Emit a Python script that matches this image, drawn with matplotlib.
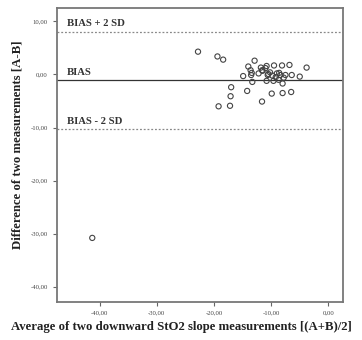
import matplotlib
matplotlib.use("Agg")
import matplotlib.pyplot as plt
from matplotlib.ticker import FuncFormatter

# mean of two measurements (x) and their difference (y)
avg_ab = [-22.8, -19.4, -18.4, -12.9, -14.0, -3.8, -8.1, -6.8, -10.8, -11.0,
          -11.5, -13.6, -13.4, -14.9, -13.5, -12.2, -11.6, -10.6, -9.5, -10.5,
          -9.0, -8.4, -7.5, -6.4, -5.0, -9.6, -8.7, -8.0, -10.8, -13.3,
          -17.0, -14.2, -8.0, -6.5, -9.9, -17.1, -19.2, -17.2, -11.6, -41.3,
          -9.2, -8.6, -10.2, -7.8, -9.8, -11.8]
diff_ab = [4.3, 3.4, 2.8, 2.6, 1.5, 1.3, 1.7, 1.8, 1.6, 1.2,
           0.7, 0.8, 0.3, -0.3, -0.1, 0.2, 0.8, -0.1, 1.7, 0.1,
           0.2, -0.1, -0.1, -0.1, -0.4, -1.2, -1.0, -1.7, -1.2, -1.4,
           -2.4, -3.1, -3.5, -3.3, -3.6, -4.1, -6.0, -5.9, -5.1, -30.8,
           -0.5, 0.3, 0.4, -0.6, -0.2, 1.3]

bias = -1.1
upper = 8.1
lower = -10.3

x_ticks = [-40, -30, -20, -10, 0]
y_ticks = [10, 0, -10, -20, -30, -40]

serif = "Liberation Serif"

fig = plt.figure(figsize=(3.62, 3.40), dpi=100)
ax = fig.add_axes([0.157, 0.113, 0.791, 0.863])

ax.scatter(avg_ab, diff_ab, s=14, facecolors="none", edgecolors="#444444", linewidths=0.8, zorder=3)

ax.axhline(bias, color="#333333", lw=0.9)
ax.axhline(upper, color="#888888", lw=0.9, ls=(0, (1.5, 1.5)))
ax.axhline(lower, color="#888888", lw=0.9, ls=(0, (1.5, 1.5)))

ax.text(-45.8, upper + 1.0, "BIAS + 2 SD", family=serif, weight="bold", fontsize=7.7, color="#333333")
ax.text(-45.8, bias + 1.0, "BIAS", family=serif, weight="bold", fontsize=7.7, color="#333333")
ax.text(-45.8, lower + 1.0, "BIAS - 2 SD", family=serif, weight="bold", fontsize=7.7, color="#333333")

ax.set_xlim(-47.5, 2.6)
ax.set_ylim(-42.8, 12.5)
ax.set_xticks(x_ticks)
ax.set_yticks(y_ticks)
fmt = FuncFormatter(lambda v, p: f"{v:.2f}".replace(".", ","))
ax.xaxis.set_major_formatter(fmt)
ax.yaxis.set_major_formatter(fmt)
ax.tick_params(labelsize=4.8, length=3, width=0.8, color="#666666", labelcolor="#444444")
for lab in ax.get_xticklabels() + ax.get_yticklabels():
    lab.set_family(serif)
for s in ax.spines.values():
    s.set_color("#777777")
    s.set_linewidth(1.3)

fig.text(0.502, 0.037, "Average of two downward StO2 slope measurements [(A+B)/2]",
         ha="center", va="center", family=serif, weight="bold", fontsize=9.2, color="#222222")
fig.text(0.047, 0.575, "Difference of two measurements [A-B]", rotation=90,
         ha="center", va="center", family=serif, weight="bold", fontsize=9.2, color="#222222")

fig.savefig("out.png", dpi=100)
